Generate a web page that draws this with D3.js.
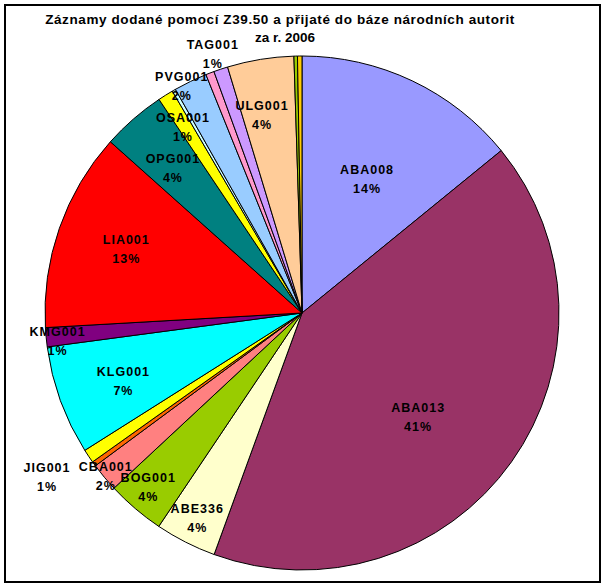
<!DOCTYPE html>
<html>
<head>
<meta charset="utf-8">
<script src="https://cdn.jsdelivr.net/npm/d3@7"></script>
<style>
  html, body { margin: 0; padding: 0; background: #fff; }
  svg { display: block; }
  text { font-family: "Liberation Sans", Arial, sans-serif; font-weight: bold; }
</style>
</head>
<body>
<div id="chart"></div>
<script>
// ---- data ----
const categories = ["ABA008", "ABA013", "ABE336", "BOG001", "CBA001", "", "JIG001", "KLG001", "KMG001",
                    "LIA001", "OPG001", "OSA001", "", "PVG001", "", "TAG001", "ULG001", "", ""];
const values = [14.1, 41.4, 3.85, 3.65, 1.8, 0.3, 0.86, 6.86, 1.2,
                12.5, 4.0, 0.97, 0.22, 2.1, 0.53, 0.89, 4.17, 0.22, 0.28];
const colors = ["#9999FF", "#993366", "#FFFFCC", "#99CC00", "#FF8080", "#FF6600", "#FFFF00", "#00FFFF", "#800080",
                "#FF0000", "#008080", "#FFFF00", "#CCFFFF", "#99CCFF", "#FF99CC", "#CC99FF", "#FFCC99", "#99CC00", "#FFCC00"];
const titleLines = ["Záznamy dodané pomocí Z39.50 a přijaté do báze národních autorit", "za r. 2006"];

// ---- label layout (angle in degrees clockwise from top, radius in px) ----
const labelLayout = {
  "ABA008": [25.9, 149], "ABA013": [131.9, 156], "ABE336": [207.1, 230], "BOG001": [221.5, 232],
  "CBA001": [230.3, 255], "JIG001": [237.3, 303], "KLG001": [249.2, 191], "KMG001": [263.5, 246],
  "LIA001": [290, 187], "OPG001": [318.3, 194], "OSA001": [327.4, 221], "PVG001": [332.1, 257],
  "TAG001": [341, 274], "ULG001": [348.6, 202]
};

const W = 606, H = 588;
const cx = 302, cy = 313, R = 257;

const svg = d3.select("#chart").append("svg").attr("width", W).attr("height", H);

svg.append("rect").attr("x", 5).attr("y", 5).attr("width", 595).attr("height", 577)
  .attr("fill", "#fff").attr("stroke", "#000").attr("stroke-width", 2);

const total = d3.sum(values);
const data = categories.map((c, i) => ({ name: c, value: values[i], color: colors[i] }));

const pie = d3.pie().value(d => d.value).sort(null).startAngle(0).endAngle(2 * Math.PI);
const arc = d3.arc().innerRadius(0).outerRadius(R);

const g = svg.append("g").attr("transform", `translate(${cx},${cy})`);
const arcs = pie(data);

g.selectAll("path.slice").data(arcs).join("path")
  .attr("class", "slice")
  .attr("d", arc)
  .attr("fill", d => d.data.color)
  .attr("stroke", "#000")
  .attr("stroke-width", 1)
  .attr("stroke-linejoin", "round");

const labeled = arcs.filter(d => d.data.name && labelLayout[d.data.name]);
const lab = g.selectAll("g.lab").data(labeled).join("g").attr("class", "lab")
  .attr("transform", d => {
    const [a, r] = labelLayout[d.data.name];
    const rad = a * Math.PI / 180;
    return `translate(${r * Math.sin(rad)},${-r * Math.cos(rad)})`;
  });
lab.append("text").attr("text-anchor", "middle").attr("y", -5)
  .attr("font-size", 12.5).attr("letter-spacing", 1).text(d => d.data.name);
lab.append("text").attr("text-anchor", "middle").attr("y", 14)
  .attr("font-size", 12.5).attr("letter-spacing", 1).text(d => Math.round(d.data.value / total * 100) + "%");

svg.append("text").attr("x", 280).attr("y", 24).attr("text-anchor", "middle")
  .attr("font-size", 13.5).attr("letter-spacing", 0.6).text(titleLines[0]);
svg.append("text").attr("x", 285).attr("y", 42).attr("text-anchor", "middle")
  .attr("font-size", 13.5).text(titleLines[1]);
</script>
</body>
</html>
